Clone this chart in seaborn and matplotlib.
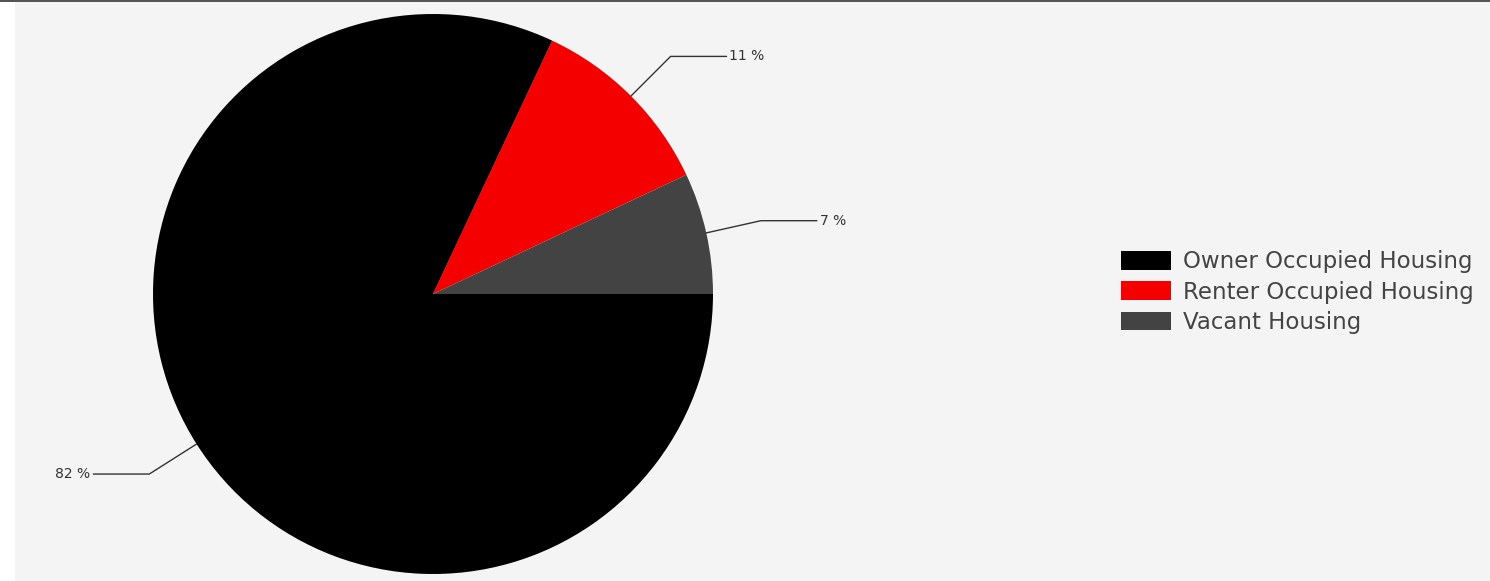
import numpy as np
import matplotlib
matplotlib.use("Agg")
import matplotlib.pyplot as plt
import seaborn as sns
from matplotlib.patches import Rectangle

categories = ["Owner Occupied Housing", "Renter Occupied Housing", "Vacant Housing"]
values = [82, 11, 7]
pct_labels = ["82 %", "11 %", "7 %"]
colors = ["#000000", "#f50000", "#434343"]

sns.set_theme(style="white")
plt.rcParams['font.family'] = ['DejaVu Sans']

W, H = 1490, 581
fig = plt.figure(figsize=(W / 100, H / 100), dpi=100)
fig.patch.set_facecolor("white")
# panel background
fig.add_artist(Rectangle((15 / W, 0), 1 - 15 / W, 1 - 2 / H, transform=fig.transFigure,
                         facecolor="#f4f4f4", edgecolor="none", zorder=-10))
fig.add_artist(Rectangle((0, 1 - 2 / H), 1, 2 / H, transform=fig.transFigure,
                         facecolor="#555555", edgecolor="none", zorder=-9))

cx, cy, r = 433, 294, 280
ax = fig.add_axes([(cx - r) / W, (H - cy - r) / H, 2 * r / W, 2 * r / H])
ax.set_facecolor("none")

# draw in order vacant, renter, owner counterclockwise from 0 degrees
order = [2, 1, 0]
wedges, _ = ax.pie([values[i] for i in order], colors=[colors[i] for i in order],
                   startangle=0, counterclock=True, radius=1,
                   wedgeprops=dict(linewidth=0))
ax.set_xlim(-1, 1)
ax.set_ylim(-1, 1)
ax.set_aspect("equal")
ax.axis("off")

for w, i in zip(wedges, order):
    ang = np.deg2rad((w.theta1 + w.theta2) / 2)
    x0, y0 = np.cos(ang), np.sin(ang)
    x1, y1 = 1.2 * np.cos(ang), 1.2 * np.sin(ang)
    sgn = 1 if x0 >= 0 else -1
    x2 = x1 + sgn * 0.2
    ax.plot([x0, x1, x2], [y0, y1, y1], color="#333333", lw=1, clip_on=False)
    ax.text(x2 + sgn * 0.01, y1, pct_labels[i], ha="left" if sgn > 0 else "right",
            va="center", fontsize=10, color="#333333", clip_on=False)

handles = [wedges[order.index(i)] for i in range(3)]
leg = fig.legend(handles, categories, loc="center left", bbox_to_anchor=(1121 / W, 1 - 292 / H),
                 frameon=False, fontsize=16.5, handlelength=2.18, handleheight=0.87,
                 labelspacing=0.32, handletextpad=0.52, borderaxespad=0, borderpad=0)
for t in leg.get_texts():
    t.set_color("#444444")

fig.savefig("out.png", dpi=100, facecolor=fig.get_facecolor())
